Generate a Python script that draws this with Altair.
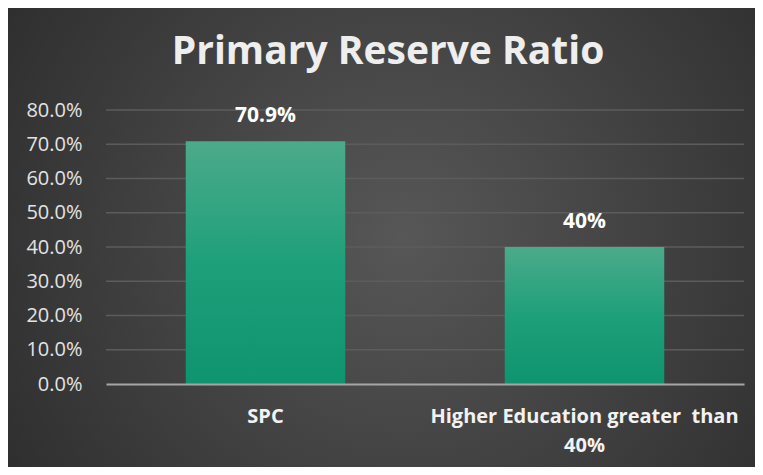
import altair as alt
import pandas as pd

# ---- data ----
categories = ["SPC", "Higher Education greater\u00a0 than\n40%"]
values = [0.709, 0.40]
value_labels = ["70.9%", "40%"]
grid_values = [0.1, 0.2, 0.3, 0.4, 0.5, 0.6, 0.7, 0.8]
y_ticks = [0.0, 0.1, 0.2, 0.3, 0.4, 0.5, 0.6, 0.7, 0.8]

df = pd.DataFrame({"category": categories, "value": values, "label": value_labels})
grid_df = pd.DataFrame({"value": grid_values})
bg_df = pd.DataFrame({"a": [0]})

FONT = "Open Sans"
PLOT_W, PLOT_H = 638, 274
PAD = {"left": 98, "top": 102, "right": 11, "bottom": 83}

bg_gradient = alt.RadialGradient(
    gradient="radial",
    x1=0.53, y1=0.5, r1=0,
    x2=0.53, y2=0.5, r2=0.75,
    stops=[
        alt.GradientStop(offset=0, color="#575757"),
        alt.GradientStop(offset=1, color="#262626"),
    ],
)

bar_gradient = alt.LinearGradient(
    gradient="linear",
    x1=0, y1=0, x2=0, y2=1,
    stops=[
        alt.GradientStop(offset=0, color="#4caa8a"),
        alt.GradientStop(offset=0.5, color="#1ea07a"),
        alt.GradientStop(offset=1, color="#0e946f"),
    ],
)

y_scale = alt.Scale(domain=[0, 0.8])
x_scale = alt.Scale(paddingInner=0.5, paddingOuter=0.25)

y_axis = alt.Axis(
    values=y_ticks,
    format=".1%",
    labelFont=FONT,
    labelFontSize=20,
    labelColor="#e3e3e3",
    labelPadding=24,
    ticks=False,
    domain=False,
    grid=False,
    zindex=1,
)

background = alt.Chart(bg_df).mark_rect(fill=bg_gradient).encode(
    x=alt.value(-PAD["left"]),
    x2=alt.value(PLOT_W + PAD["right"]),
    y=alt.value(-PAD["top"]),
    y2=alt.value(PLOT_H + PAD["bottom"]),
)

grid = alt.Chart(grid_df).mark_rule(color="#5c5c5c", strokeWidth=1.5).encode(
    y=alt.Y("value:Q", scale=y_scale, title=None, axis=y_axis),
)

base = alt.Chart(df).encode(
    x=alt.X(
        "category:N",
        sort=None,
        scale=x_scale,
        title=None,
        axis=alt.Axis(
            labelExpr="split(datum.label, '\\n')",
            labelAngle=0,
            labelFont=FONT,
            labelFontSize=20,
            labelFontWeight="bold",
            labelColor="#f2f2f2",
            labelLineHeight=29,
            labelPadding=22,
            labelLimit=500,
            ticks=False,
            domainColor="#a6a6a6",
            domainWidth=2,
            grid=False,
            zindex=1,
        ),
    ),
)

bars = base.mark_bar(color=bar_gradient).encode(
    y=alt.Y("value:Q", scale=y_scale, title=None, axis=y_axis),
)

text = base.mark_text(
    font=FONT, fontSize=21, fontWeight="bold", color="#ffffff",
    baseline="middle", dy=-25,
).encode(
    y=alt.Y("value:Q", scale=y_scale, title=None, axis=y_axis),
    text="label:N",
)

chart = alt.layer(background, grid, bars, text).properties(
    width=PLOT_W,
    height=PLOT_H,
    padding=PAD,
    autosize=alt.AutoSizeParams(type="none"),
    background="#262626",
    title=alt.TitleParams(
        "Primary Reserve Ratio",
        font=FONT,
        fontSize=39,
        fontWeight="bold",
        color="#eeeeee",
        anchor="middle",
        frame="group",
        baseline="alphabetic",
        dx=-37,
        offset=-95,
        zindex=1,
    ),
).configure_view(stroke=None)

chart.save("out.html", embed_options={"renderer": "svg", "actions": False})
